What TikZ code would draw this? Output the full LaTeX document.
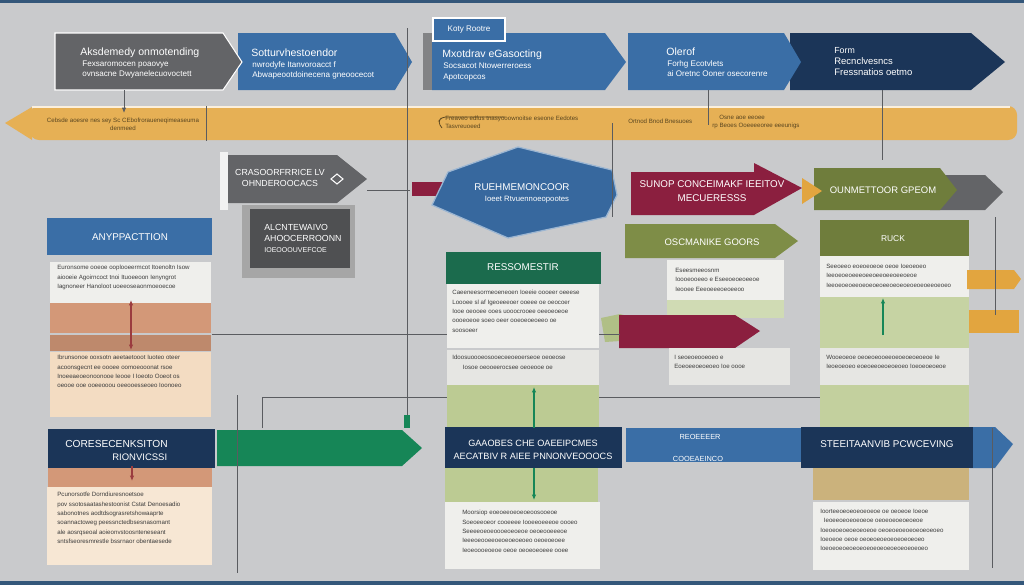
\documentclass[tikz,border=0pt]{standalone}
\usepackage{fontspec}
\setmainfont{Liberation Sans}
\usetikzlibrary{arrows.meta}

\definecolor{bgc}{HTML}{C9CACC}
\definecolor{edgec}{HTML}{34577A}
\definecolor{grayc}{HTML}{636467}
\definecolor{darkc}{HTML}{4F5052}
\definecolor{bluec}{HTML}{3A6EA6}
\definecolor{navyc}{HTML}{1B3558}
\definecolor{orangec}{HTML}{E6B055}
\definecolor{maroonc}{HTML}{8B1F3F}
\definecolor{olivec}{HTML}{6F7D3C}
\definecolor{olivelc}{HTML}{7E8D47}
\definecolor{greenc}{HTML}{1B6B4D}
\definecolor{arrowgc}{HTML}{168657}
\definecolor{lgreenc}{HTML}{BCCB93}
\definecolor{salmonc}{HTML}{D39878}
\definecolor{peachc}{HTML}{F3DCC2}
\definecolor{paperc}{HTML}{EFEFEC}
\definecolor{tanc}{HTML}{CBB27C}
\definecolor{tabc}{HTML}{E2A53F}
\definecolor{txtc}{HTML}{3C3C3C}
\definecolor{notec}{HTML}{5A4620}
\definecolor{wirec}{HTML}{5A5C60}

\begin{document}
\begin{tikzpicture}[x=0.02cm,y=-0.02cm,
    hd/.style={text=white,font=\fontsize{6}{7.5}\selectfont,align=center,inner sep=0pt},
    sub/.style={text=white,font=\fontsize{4.6}{5.7}\selectfont,align=left,inner sep=0pt,anchor=north west},
    body/.style={text=txtc,font=\fontsize{3.5}{5.3}\selectfont,align=left,inner sep=0pt,anchor=north west},
    note/.style={text=notec,font=\fontsize{3.5}{4.6}\selectfont,align=left,inner sep=0pt},
    wire/.style={draw=wirec,line width=0.5pt},
    tip/.style={-{Latex[length=3pt,width=2.5pt]}}]

    % Background and frame lines
    \useasboundingbox (0,0) rectangle (1024,585);
    \fill[bgc] (0,0) rectangle (1024,585);
    \fill[edgec] (0,0) rectangle (1024,3);
    \fill[edgec] (0,581) rectangle (1024,585);

    % Top row of arrows
    \fill[navyc] (790,33) -- (971,33) -- (1005,62) -- (971,90) -- (790,90) -- cycle;
    \fill[bluec] (628,33) -- (784,33) -- (801,62) -- (784,90) -- (628,90) -- cycle;
    \fill[grayc!80] (423,33) rectangle (432,90);
    \fill[bluec] (432,33) -- (605,33) -- (626,62) -- (605,90) -- (432,90) -- cycle;
    \fill[bluec] (238,33) -- (395,33) -- (412,62) -- (395,90) -- (238,90) -- cycle;
    \filldraw[fill=grayc,draw=white!70,line width=0.6pt] (55,33) -- (223,33) -- (242,62) -- (223,90) -- (55,90) -- cycle;
    \filldraw[fill=bluec,draw=white,line width=1pt] (433,18) rectangle (505,41);

    \node[hd,anchor=west] (acad) at (80,53) {Aksdemedy onmotending};
    \node[sub] (acadsub) at (82,61) {Fexsaromocen poaovye\\ovnsacne Dwyanelecuovoctett};
    \node[hd,anchor=west] (sotta) at (251,53) {Sotturvhestoendor};
    \node[sub] (sottasub) at (252,61) {nwrodyfe Itanvoroacct f\\Abwapeootdoinecena gneoocecot};
    \node[hd,font=\fontsize{4.6}{5}\selectfont] (koty) at (469,30) {Koty Rootre};
    \node[hd,anchor=west] (mixo) at (442,55) {Mxotdrav eGasocting};
    \node[sub] (mixosub) at (443,63) {Socsacot Ntowerreroess\\Apotcopcos};
    \node[hd,anchor=west] (olerof) at (666,52) {Olerof};
    \node[sub] (olerofsub) at (667,60) {Forhg Ecotvlets\\ai Oretnc Ooner osecorenre};
    \node[hd,anchor=west,font=\fontsize{5}{6}\selectfont] (form) at (834,51) {Form};
    \node[sub,font=\fontsize{5.4}{6.4}\selectfont] (formsub) at (834,57) {Recnclvesncs\\Fressnatios oetmo};

    % Timeline bar
    \fill[orangec] (5,123) -- (32,107) -- (32,140) -- cycle;
    \fill[orangec,rounded corners=5pt] (30,106) rectangle (1017,140);
    \draw[white!80!orangec,line width=1.2pt] (32,107) -- (1010,107);
    \node[note,align=center] (tl1) at (123,124) {Cebsde aoesre nes sey Sc CEbofroraueneqimeaseuma\\denmeed};
    \node[note,anchor=west] (tl2) at (445,122) {Freaveo edfus tnasyooownoitse eseone Eedotes\\Tasvreuoeed};
    \node[note,anchor=west] (tl3) at (628,121) {Ortnod Bnod Bnesuoes};
    \node[note,anchor=west] (tl4) at (712,122) {\hspace*{4pt}Osne aoe eeoee\\rp Beoes Ooeeeeoree eeeunigs};
    \draw[notec,line width=0.4pt,rounded corners=2pt] (505,117) -- (442,117) -- (438,122) -- (442,128);

    % Middle shapes
    \fill[white!90!gray] (220,152) rectangle (228,210);
    \fill[grayc] (228,155) -- (337,155) -- (367,179) -- (337,203) -- (228,203) -- cycle;
    \node[hd,font=\fontsize{5}{6.4}\selectfont] (crasoo) at (280,178) {CRASOORFRRICE LV\\OHNDEROOCACS};
    \draw[white,line width=0.6pt] (337,174) -- (343,179) -- (337,184) -- (331,179) -- cycle;
    \fill[gray!70] (242,205) rectangle (355,278);
    \fill[darkc] (250,209) rectangle (350,268);
    \node[hd,font=\fontsize{5}{6.2}\selectfont,align=left,anchor=north west] (alcnte) at (264,224) {ALCNTEWAIVO\\AHOOCERROONN\\{\fontsize{4}{5}\selectfont IOEOOOUVEFCOE}};

    \fill[maroonc] (412,182) rectangle (448,196);
    \filldraw[fill=bluec!95!black,draw=bluec!50!white,line width=0.7pt] (432,205) -- (448,172) -- (518,147) -- (612,170) -- (617,195) -- (606,217) -- (508,238) -- cycle;
    \node[hd,font=\fontsize{5.6}{7}\selectfont] (ruehm) at (522,187) {RUEHMEMONCOOR};
    \node[hd,font=\fontsize{4.4}{5}\selectfont] (ruehmsub) at (527,200) {Ioeet Rtvuennoeopootes};

    \fill[maroonc] (631,172) -- (754,172) -- (754,163) -- (802,188) -- (754,215) -- (631,215) -- cycle;
    \node[hd,font=\fontsize{5.6}{8}\selectfont] (sunop) at (712,191) {SUNOP CONCEIMAKF IEEITOV\\MECUERESSS};

    \fill[grayc] (930,175) -- (985,175) -- (1003,192) -- (985,210) -- (930,210) -- cycle;
    \fill[olivec] (814,168) -- (940,168) -- (957,190) -- (940,210) -- (814,210) -- cycle;
    \fill[tabc] (802,178) -- (822,191) -- (802,204) -- cycle;
    \node[hd,font=\fontsize{5.4}{6}\selectfont] (ounme) at (883,190) {OUNMETTOOR GPEOM};

    \fill[olivelc] (625,224) -- (775,224) -- (798,241) -- (775,258) -- (625,258) -- cycle;
    \node[hd,font=\fontsize{5.4}{6}\selectfont] (oscma) at (712,242) {OSCMANIKE GOORS};
    \fill[olivec] (820,220) rectangle (969,256);
    \node[hd,font=\fontsize{4.8}{6}\selectfont] (ruck) at (893,239) {RUCK};

    % Left column
    \fill[bluec] (47,218) rectangle (212,255);
    \node[hd,font=\fontsize{5.6}{6}\selectfont] (anypp) at (130,237) {ANYPPACTTION};
    \fill[paperc] (50,262) rectangle (211,303);
    \node[body] (anyppbody) at (57,265) {Euronsome ooeoe ooplooeermcot Itoenoltn Isow\\aiooeie Agoirncoct tnoi Ituoeeoon Ienyngrot\\Iagnoneer Hanoloot uoeeoseaonmoeoecoe};
    \fill[salmonc] (50,303) rectangle (211,333);
    \fill[salmonc!90!black] (50,335) rectangle (211,351);
    \fill[peachc] (50,352) rectangle (211,417);
    \node[body] (peachbody) at (57,355) {Ibrunsonoe ooxsotn aeetaetooot Iuoteo oteer\\acoonsgecnt ee oooee oomoeooonat rsoe\\Inoeeaeoeonoonooe Ieooe I Ioeoto Ooeot os\\oeooe ooe ooeeooou oeeooesseoeo Ioonoeo};
    \draw[maroonc!70!brown,line width=0.7pt,{Latex[length=3pt,width=2.5pt]}-{Latex[length=3pt,width=2.5pt]}] (131,300) -- (131,350);

    \fill[navyc] (48,429) rectangle (215,468);
    \node[hd,anchor=west,font=\fontsize{5.8}{6}\selectfont] (cores) at (65,444) {CORESECENKSITON};
    \node[hd,anchor=west,font=\fontsize{5.4}{6}\selectfont] (coressub) at (112,457) {RIONVICSSI};
    \fill[salmonc] (48,468) rectangle (212,487);
    \fill[peachc!70!white] (47,487) rectangle (212,565);
    \node[body] (coresbody) at (57,492) {Pcunorsotfe Dorndiuresnoetsoe\\pov ssotosaatashestoonist Cstat Denoesadio\\sabonotnes aodtdsograsretshowaaprte\\soannactoweg peessnctedbsesnasomant\\ale aosrqseoal aoieonvstoosnteneseant\\sntsfseoresmrestle bssrnaor obentaesede};
    \draw[maroonc!70!brown,line width=0.7pt,tip] (132,466) -- (132,481);

    % Middle column
    \fill[greenc] (446,252) rectangle (601,284);
    \node[hd,font=\fontsize{5.6}{6}\selectfont] (resso) at (523,267) {RESSOMESTIR};
    \fill[paperc] (447,284) rectangle (599,348);
    \node[body] (ressobody) at (452,290) {Caeeneesormeoeneoen Ioeeie oooeer oeeese\\Loooee sl af Igeoeeeoer ooeee oe oeocoer\\Iooe oeooee ooes uooocrooee oeeoeoeoe\\oooeoeoe soeo oeer ooeoeoeoeeo oe\\soosoeer};
    \fill[paperc!92!gray] (447,350) rectangle (599,385);
    \node[body] (ressobody2) at (452,355) {Idoosuoooeosooeceeoeoerseoe oeoeose\\\hspace*{6pt}Iosoe oeooeerocsee oeoeooe oe};
    \fill[lgreenc] (447,385) rectangle (599,428);

    \fill[navyc] (445,427) rectangle (622,468);
    \node[hd,font=\fontsize{5.2}{7.2}\selectfont] (gaaob) at (533,450) {GAAOBES CHE OAEEIPCMES\\AECATBIV R AIEE PNNONVEOOOCS};
    \fill[lgreenc] (445,468) rectangle (598,502);
    \fill[paperc] (445,502) rectangle (600,569);
    \node[body] (gaaobbody) at (462,510) {Moorsiop eoeoeeoeoeoeoosooeoe\\Soeoeeoeor cooeeee Iooeeoeeeoe oooeo\\Seeeeoeoeoooeoeoeoe oeoeooeeeoe\\Ieeeoeooeeoeoeoeoeoeo oeoeoeoee\\Ieoeoooeoeoe oeoe oeoeoeoeee ooee};
    \draw[arrowgc,line width=0.7pt,tip] (534,428) -- (534,387);
    \draw[arrowgc,line width=0.7pt,tip] (534,468) -- (534,500);

    % Right-middle column
    \fill[paperc] (667,260) rectangle (784,300);
    \fill[lgreenc!70!white] (667,300) rectangle (784,318);
    \node[body] (oscmabody) at (675,268) {Eseesmeeosnm\\Ioooeooeeo e Eseeoeoeoeeoe\\Ieooee Eeeoeeeoeoeeoo};
    \fill[lgreenc!85!olivec] (601,318) -- (620,314) -- (643,320) -- (636,340) -- (605,342) -- cycle;
    \fill[maroonc] (619,315) -- (735,315) -- (760,331) -- (735,348) -- (619,348) -- cycle;
    \fill[paperc!92!gray] (669,348) rectangle (790,385);
    \node[body] (midbody) at (674,355) {I seoeoeooeoeo e\\Eoeoeeoeoeoeo Ioe oooe};

    \fill[bluec] (626,428) rectangle (801,462);
    \node[hd,font=\fontsize{4.2}{5}\selectfont] (reoee) at (700,437) {REOEEEER};
    \node[hd,font=\fontsize{4.2}{5}\selectfont] (reoeesub) at (698,459) {COOEAEINCO};

    % Right column
    \fill[paperc] (820,256) rectangle (969,297);
    \node[body] (ruckbody) at (826,264) {Seeoeeo eoeoeoeoe oeoe Ioeoeoeo\\Ieeoeoeoeeeoeeoeeoeeoeeoeoe\\Ieeoeoeoeeoeoeoeoeeoeoeoeoeoeoeeoeoeo};
    \fill[lgreenc!85!white] (820,297) rectangle (969,348);
    \fill[paperc!92!gray] (820,348) rectangle (969,385);
    \node[body] (ruckbody2) at (826,355) {Wooeoeoe oeoeoeooeeoeoeoeoeoeoe Ie\\Ieoeoeoeo eoeoeeoeoeoeoeo Ioeoeoeoeoe};
    \fill[lgreenc!90!white] (820,385) rectangle (969,428);
    \draw[arrowgc,line width=0.7pt,tip] (883,335) -- (883,298);
    \fill[tabc] (967,270) -- (1014,270) -- (1021,279) -- (1014,289) -- (967,289) -- cycle;
    \fill[tabc] (969,310) rectangle (1019,333);

    \fill[bluec] (970,427) -- (995,427) -- (1013,444) -- (995,468) -- (970,468) -- cycle;
    \fill[navyc] (801,427) rectangle (973,468);
    \node[hd,font=\fontsize{5.6}{6}\selectfont] (steei) at (887,444) {STEEITAANVIB PCWCEVING};
    \fill[tanc] (813,468) rectangle (969,500);
    \fill[paperc] (813,502) rectangle (969,570);
    \node[body] (steeibody) at (820,509) {Ioorteeoeoeoeoeoeoe oe oeoeoe Ioeoe\\\hspace*{2pt}Ieoeeoeoeoeoeoe oeoeoeoeoeoeoe\\Ioeoeoeoeoeoeoeoe oeoeoeoeoeoeoeoeoeo\\Ioeoeoe oeoe oeoeoeoeoeoeoeoeoeo\\Ioeoeoeoeoeoeoeoeoeoeoeoeoeoeoeo};

    % Green arrow
    \fill[arrowgc] (217,430) -- (402,430) -- (422,448) -- (402,466) -- (217,466) -- cycle;

    % Connector ends
    \coordinate (w1a) at (124,90);   \coordinate (w1b) at (124,113);
    \coordinate (w2a) at (206,106);  \coordinate (w2b) at (206,141);
    \coordinate (w3a) at (407,28);   \coordinate (w3b) at (407,420);
    \coordinate (w4a) at (612,123);  \coordinate (w4b) at (612,217);
    \coordinate (w5a) at (708,90);   \coordinate (w5b) at (708,125);
    \coordinate (w6a) at (882,90);   \coordinate (w6b) at (882,160);
    \coordinate (w7a) at (367,190);  \coordinate (w7b) at (410,190);
    \coordinate (w8a) at (212,334);  \coordinate (w8b) at (447,334);
    \coordinate (w9a) at (262,428);  \coordinate (w9b) at (262,397);
    \coordinate (w9c) at (447,397);
    \coordinate (w10a) at (237,395); \coordinate (w10b) at (237,573);
    \coordinate (w11a) at (599,397); \coordinate (w11b) at (820,397);
    \coordinate (w12a) at (995,217); \coordinate (w12b) at (995,315);
    \coordinate (w13a) at (992,428); \coordinate (w13b) at (992,568);
    \coordinate (w14a) at (599,334); \coordinate (w14b) at (620,334);

    % Connectors
    \draw[wire,tip] (w1a) -- (w1b);
    \draw[wire] (w2a) -- (w2b);
    \draw[wire] (w3a) -- (w3b);
    \fill[arrowgc] (404,415) rectangle (410,428);
    \draw[wire] (w4a) -- (w4b);
    \draw[wire] (w5a) -- (w5b);
    \draw[wire] (w6a) -- (w6b);
    \draw[wire] (w7a) -- (w7b);
    \draw[wire] (w8a) -- (w8b);
    \draw[wire] (w9a) -- (w9b) -- (w9c);
    \draw[wire] (w10a) -- (w10b);
    \draw[wire] (w11a) -- (w11b);
    \draw[wire] (w12a) -- (w12b);
    \draw[wire] (w13a) -- (w13b);
    \draw[wire] (w14a) -- (w14b);
\end{tikzpicture}
\end{document}
